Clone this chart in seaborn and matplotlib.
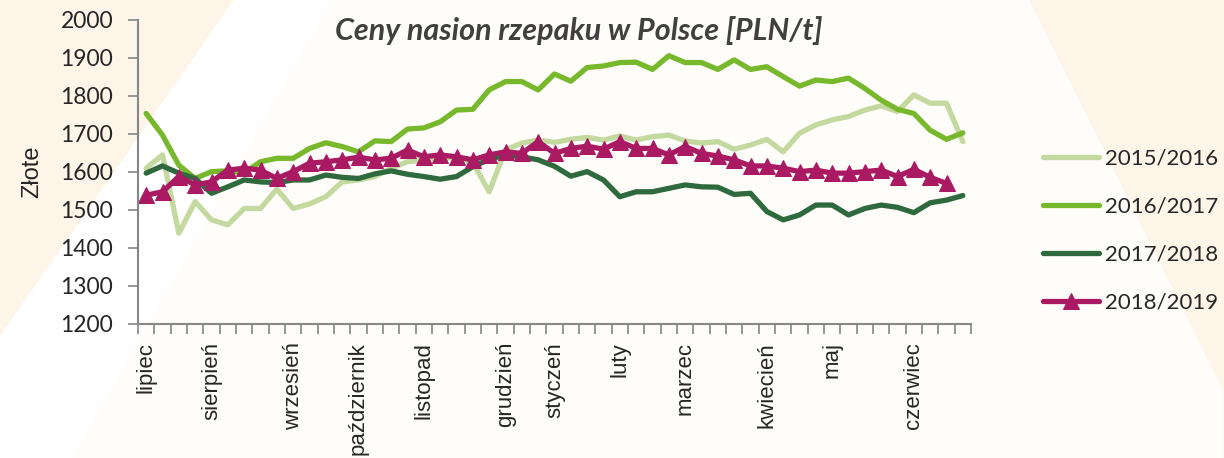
import numpy as np
import pandas as pd
import seaborn as sns
import matplotlib.pyplot as plt
from matplotlib.patches import Polygon

# weekly prices, PLN/t
s2015 = [1610, 1645, 1439, 1522, 1474, 1461, 1504, 1504, 1555, 1504, 1516, 1535, 1574, 1579,
         1588, 1610, 1627, 1632, 1636, 1638, 1625, 1548, 1658, 1676, 1684, 1678, 1686, 1691,
         1684, 1695, 1684, 1693, 1697, 1682, 1676, 1680, 1660, 1671, 1686, 1653, 1702, 1724,
         1737, 1746, 1763, 1774, 1759, 1803, 1781, 1781, 1680]
s2016 = [1754, 1697, 1618, 1583, 1601, 1603, 1598, 1627, 1636, 1636, 1662, 1677, 1667, 1653,
         1682, 1680, 1713, 1716, 1732, 1763, 1765, 1816, 1838, 1838, 1816, 1858, 1839, 1875,
         1879, 1888, 1889, 1870, 1906, 1888, 1888, 1870, 1895, 1870, 1877, 1851, 1826, 1842,
         1838, 1847, 1820, 1789, 1765, 1754, 1710, 1686, 1703]
s2017 = [1597, 1616, 1597, 1583, 1544, 1561, 1579, 1574, 1572, 1579, 1579, 1592, 1586, 1583,
         1595, 1603, 1594, 1588, 1581, 1588, 1614, 1633, 1645, 1640, 1632, 1615, 1589, 1601,
         1579, 1535, 1548, 1548, 1557, 1566, 1561, 1560, 1541, 1544, 1496, 1474, 1487, 1513,
         1513, 1487, 1504, 1513, 1507, 1493, 1519, 1526, 1538]
s2018 = [1539, 1548, 1588, 1566, 1574, 1605, 1610, 1605, 1583, 1601, 1623, 1627, 1632, 1639,
         1632, 1636, 1658, 1640, 1645, 1640, 1632, 1645, 1653, 1649, 1680, 1649, 1662, 1668,
         1660, 1680, 1662, 1662, 1645, 1667, 1649, 1642, 1632, 1616, 1616, 1610, 1601, 1605,
         1597, 1597, 1601, 1605, 1588, 1607, 1586, 1570]

seasons = ["2015/2016", "2016/2017", "2017/2018", "2018/2019"]
colors = ["#C4D9A0", "#77B82C", "#2E6A3D", "#AA1A63"]
month_pos = [0, 4, 9, 13, 17, 22, 25, 29, 33, 38, 42, 47]
month_names = ["lipiec", "sierpień", "wrzesień", "październik", "listopad", "grudzień",
               "styczeń", "luty", "marzec", "kwiecień", "maj", "czerwiec"]
n_weeks = 51

rows = []
for name, vals in zip(seasons, [s2015, s2016, s2017, s2018]):
    for i, v in enumerate(vals):
        rows.append({"week": i, "cena": v, "sezon": name})
df = pd.DataFrame(rows)

sns.set_style("white")
fig = plt.figure(figsize=(12.24, 4.58), dpi=100)

# slide background decoration
W, H = 1224, 458
def px(pts):
    return [(x / W, 1 - y / H) for x, y in pts]
fig.patches.append(Polygon(px([(0, 0), (233, 0), (0, 335)]), closed=True,
                           transform=fig.transFigure, color="#FDF6E8", zorder=-5))
fig.patches.append(Polygon(px([(332, 0), (1030, 0), (1257, 458), (72, 458)]), closed=True,
                           transform=fig.transFigure, color="#FFFDF9", zorder=-5))
fig.patches.append(Polygon(px([(1030, 0), (1224, 0), (1224, 458), (1257, 458)]), closed=True,
                           transform=fig.transFigure, color="#FDF6E8", zorder=-5))

ax = fig.add_axes([138 / W, 1 - 324 / H, (971 - 138) / W, (324 - 20) / H])
ax.set_zorder(3)
ax.patch.set_alpha(0)

for name, col in zip(seasons, colors):
    d = df[df["sezon"] == name]
    if name == "2018/2019":
        sns.lineplot(data=d, x="week", y="cena", ax=ax, color=col, lw=3.8,
                     marker="^", markersize=11, markeredgecolor=col, label=name)
    else:
        sns.lineplot(data=d, x="week", y="cena", ax=ax, color=col, lw=3.8, label=name)

ax.set_xlim(-0.5, n_weeks - 0.5)
ax.set_ylim(1200, 2000)
ax.set_yticks(range(1200, 2001, 100))
ax.set_xticks(month_pos)
ax.set_xticklabels(month_names, rotation=90, fontsize=16, family="Liberation Sans")
ax.set_xticks(np.arange(-0.5, n_weeks, 1), minor=True)
ax.tick_params(axis="x", which="major", length=0, pad=13)
ax.tick_params(axis="x", which="minor", length=7, color="#868686", width=1.2, bottom=True)
ax.tick_params(axis="y", length=7, color="#868686", width=1.2, pad=11, left=True,
               labelsize=16.5)
for t in ax.get_yticklabels():
    t.set_family("Lato")
for side in ["top", "right"]:
    ax.spines[side].set_visible(False)
for side in ["left", "bottom"]:
    ax.spines[side].set_color("#868686")
    ax.spines[side].set_linewidth(1.5)

ax.set_xlabel("")
ax.set_ylabel("Złote", fontsize=17, family="Liberation Sans", labelpad=12)

fig.text(579 / W, 1 - 31 / H, "Ceny nasion rzepaku w Polsce [PLN/t]", ha="center",
         va="center", fontsize=22, fontweight="bold", fontstyle="italic",
         color="#404040", family="Lato")

leg = ax.legend(loc="upper left", bbox_to_anchor=(1023 / W, 1 - 129 / H),
                bbox_transform=fig.transFigure, frameon=False, handlelength=2.5,
                handletextpad=0.3, labelspacing=1.26, prop={"family": "Lato", "size": 16})

fig.savefig("out.png", dpi=100)
